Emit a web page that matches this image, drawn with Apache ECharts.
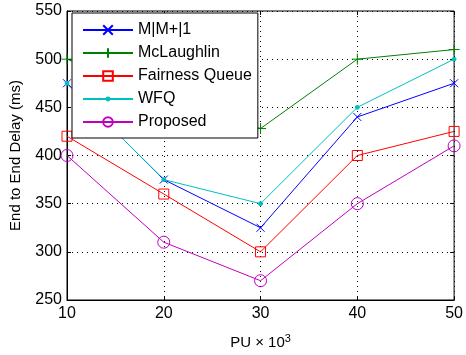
<!DOCTYPE html>
<html><head><meta charset="utf-8">
<script src="https://cdn.jsdelivr.net/npm/echarts@6/dist/echarts.min.js"></script>
<style>html,body{margin:0;padding:0;background:#fff}#c{width:466px;height:355px}</style>
</head><body><div id="c"></div>
<script>
const xValues = [10, 20, 30, 40, 50];
const mm1 = [475, 375, 325, 440, 475];
const mcLaughlin = [500, 460, 428, 500, 510];
const fairness = [420, 360, 300, 400, 425];
const wfq = [475, 375, 350, 450, 500];
const proposed = [400, 310, 270, 350, 410];
const names = ['M|M+|1', 'McLaughlin', 'Fairness Queue', 'WFQ', 'Proposed'];

const font = 'Liberation Sans, Arial, sans-serif';
const pair = arr => arr.map((v, i) => [xValues[i], v]);
function mk(name, data, color, symbol, size, fill) {
  return {
    name, type: 'line', data: pair(data), symbol, symbolSize: size,
    lineStyle: { color, width: 1 },
    itemStyle: { color: fill || color, borderColor: color, borderWidth: 1 },
    emphasis: { disabled: true }, animation: false
  };
}
const dotPath = 'path://M0,0M10,10M3.5,5A1.5,1.5,0,1,1,6.5,5A1.5,1.5,0,1,1,3.5,5Z';
const gridLine = { show: true, lineStyle: { color: '#000', type: [1, 4], width: 1 } };
const tick = { inside: true, length: 4, lineStyle: { color: '#000' } };
const chart = echarts.init(document.getElementById('c'));
chart.setOption({
  animation: false,
  grid: { left: 67, right: 7, top: 11, bottom: 55, show: true, borderColor: '#000', borderWidth: 1 },
  legend: {
    orient: 'vertical', left: 72, top: 13,
    backgroundColor: '#fff', borderColor: '#000', borderWidth: 1,
    padding: [9, 6, 8, 10], itemGap: 7, itemWidth: 50, itemHeight: 12,
    textStyle: { fontFamily: font, fontSize: 16, color: '#000' },
    z: 10
  },
  xAxis: [{
    type: 'value', min: 10, max: 50, interval: 10,
    axisLine: { lineStyle: { color: '#000' } },
    axisTick: tick,
    axisLabel: { fontFamily: font, fontSize: 16, color: '#000', margin: 6 },
    splitLine: gridLine,
    name: '{a|PU × 10}{b|3}', nameLocation: 'middle', nameGap: 33,
    nameTextStyle: { rich: { a: { fontFamily: font, fontSize: 15, color: '#000' }, b: { fontFamily: font, fontSize: 11, color: '#000', verticalAlign: 'top', padding: [0, 0, 8, 0] } } }
  }, {
    type: 'value', position: 'top', min: 10, max: 50, interval: 10,
    axisLine: { show: false }, axisTick: tick, axisLabel: { show: false }, splitLine: { show: false }
  }],
  yAxis: [{
    type: 'value', min: 250, max: 550, interval: 50,
    axisLine: { lineStyle: { color: '#000' } },
    axisTick: tick,
    axisLabel: { fontFamily: font, fontSize: 16, color: '#000', margin: 5 },
    splitLine: gridLine,
    name: 'End to End Delay (ms)', nameLocation: 'middle', nameGap: 44,
    nameTextStyle: { fontFamily: font, fontSize: 15, color: '#000' }
  }, {
    type: 'value', position: 'right', min: 250, max: 550, interval: 50,
    axisLine: { show: false }, axisTick: tick, axisLabel: { show: false }, splitLine: { show: false }
  }],
  series: [
    mk(names[0], mm1, '#0000ff', 'path://M0,0L10,10M10,0L0,10', 8),
    mk(names[1], mcLaughlin, '#008000', 'path://M5,0L5,10M0,5L10,5', 11),
    mk(names[2], fairness, '#ff0000', 'rect', 10, 'rgba(0,0,0,0)'),
    mk(names[3], wfq, '#00bfbf', dotPath, 13),
    mk(names[4], proposed, '#bf00bf', 'circle', 12, 'rgba(0,0,0,0)')
  ]
});
</script></body></html>
